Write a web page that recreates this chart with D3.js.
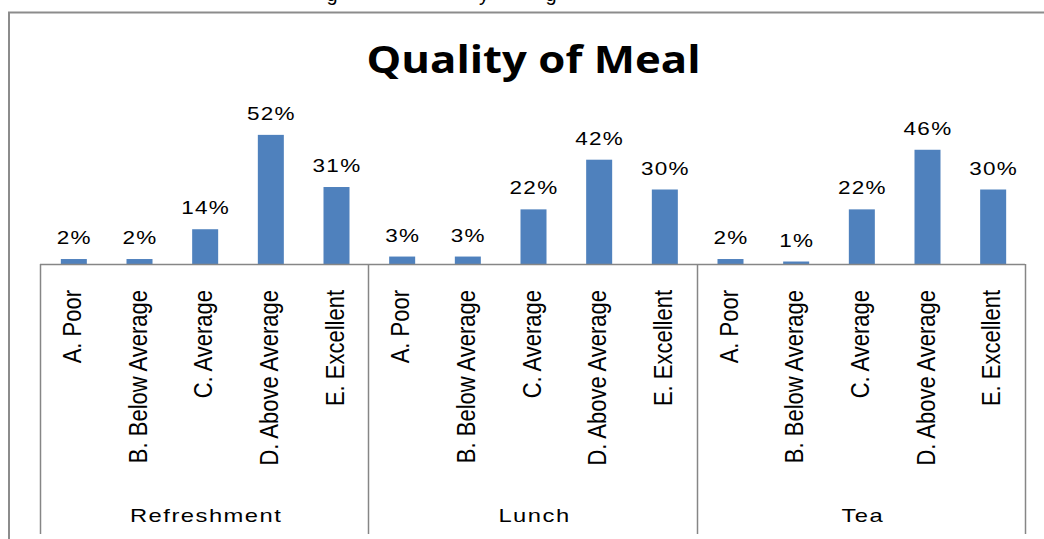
<!DOCTYPE html>
<html>
<head>
<meta charset="utf-8">
<script src="https://cdn.jsdelivr.net/npm/d3@7"></script>
<style>
  html, body { margin: 0; padding: 0; background: #fff; }
  svg { display: block; }
</style>
</head>
<body>
<svg id="chart" width="1044" height="539"></svg>
<script>
// ---- data ----
const groups = ["Refreshment", "Lunch", "Tea"];
const categories = ["A. Poor", "B. Below Average", "C. Average", "D. Above Average", "E. Excellent"];
const refreshment = [0.02, 0.02, 0.14, 0.52, 0.31];
const lunch = [0.03, 0.03, 0.22, 0.42, 0.30];
const tea = [0.02, 0.01, 0.22, 0.46, 0.30];
const seriesValues = [refreshment, lunch, tea];
const chartTitle = "Quality of Meal";
// fragments of caption text cut at the top edge (as in the reference)
const captionFragments = [{ t: "g", x: 332 }, { t: "y", x: 484 }, { t: "g", x: 551 }];

// ---- layout ----
const svg = d3.select("#chart");
const plotLeft = 40, plotRight = 1025, plotBase = 264, plotTop = 115;
const barColor = "#4F81BD";
const axisColor = "#868686";

const rows = [];
groups.forEach((g, gi) => categories.forEach((c, ci) => rows.push({ g, c, v: seriesValues[gi][ci], key: g + "|" + c })));

const xGroup = d3.scaleBand().domain(groups).range([plotLeft, plotRight]).padding(0);
const xCat = d3.scaleBand().domain(categories).range([0, xGroup.bandwidth()]).paddingInner(0.604).paddingOuter(0.302);
const y = d3.scaleLinear().domain([0, 0.6]).range([plotBase, plotTop]);
const fmt = d3.format(".0%");

// caption fragments
svg.selectAll("text.cap").data(captionFragments).join("text")
  .attr("class", "cap")
  .attr("x", d => d.x).attr("y", 1)
  .attr("text-anchor", "middle")
  .attr("font-family", "Liberation Sans, Arial, sans-serif")
  .attr("font-size", 20)
  .attr("fill", "#000")
  .text(d => d.t);

// outer frame (top + left)
svg.append("path")
  .attr("d", `M9,539 L9,12.5 L1044,12.5`)
  .attr("fill", "none")
  .attr("stroke", "#8c8c8c")
  .attr("stroke-width", 2);

// title
svg.append("text")
  .attr("x", (plotLeft + plotRight) / 2 + 1)
  .attr("y", 73)
  .attr("text-anchor", "middle")
  .attr("font-family", "Open Sans, Liberation Sans, Arial, sans-serif")
  .attr("font-weight", "bold")
  .attr("font-size", 38)
  .attr("textLength", 334)
  .attr("lengthAdjust", "spacingAndGlyphs")
  .attr("fill", "#000")
  .text(chartTitle);

// bars
svg.selectAll("rect.bar").data(rows).join("rect")
  .attr("class", "bar")
  .attr("x", d => xGroup(d.g) + xCat(d.c) + 1)
  .attr("width", xCat.bandwidth())
  .attr("y", d => y(d.v))
  .attr("height", d => plotBase - y(d.v))
  .attr("fill", barColor);

// value labels
svg.selectAll("g.vlab").data(rows).join("g")
  .attr("class", "vlab")
  .attr("transform", d => `translate(${xGroup(d.g) + xCat(d.c) + xCat.bandwidth() / 2 + 1.5},${y(d.v) - 15}) scale(1.25,1)`)
  .append("text")
  .attr("text-anchor", "middle")
  .attr("font-family", "Liberation Sans, Arial, sans-serif")
  .attr("font-size", 18)
  .attr("letter-spacing", 1)
  .attr("fill", "#000")
  .text(d => fmt(d.v));

// axis baseline
svg.append("line")
  .attr("x1", plotLeft).attr("x2", plotRight)
  .attr("y1", plotBase + 0.5).attr("y2", plotBase + 0.5)
  .attr("stroke", axisColor).attr("stroke-width", 1.5);

// group separators
const bounds = groups.map(g => xGroup(g)).concat([plotRight]);
svg.selectAll("line.sep").data(bounds).join("line")
  .attr("class", "sep")
  .attr("x1", d => Math.round(d) + 0.5).attr("x2", d => Math.round(d) + 0.5)
  .attr("y1", plotBase).attr("y2", 534)
  .attr("stroke", axisColor).attr("stroke-width", 1.5);

// category labels (rotated)
svg.selectAll("g.clab").data(rows).join("g")
  .attr("class", "clab")
  .attr("transform", d => `translate(${xGroup(d.g) + xCat(d.c) + xCat.bandwidth() / 2 + 8},290) scale(1.15,1) rotate(-90)`)
  .append("text")
  .attr("text-anchor", "end")
  .attr("font-family", "Liberation Sans, Arial, sans-serif")
  .attr("font-size", 22)
  .attr("fill", "#000")
  .text(d => d.c);

// group labels
svg.selectAll("g.glab").data(groups).join("g")
  .attr("class", "glab")
  .attr("transform", g => `translate(${xGroup(g) + xGroup.bandwidth() / 2 + 2},522) scale(1.25,1)`)
  .append("text")
  .attr("text-anchor", "middle")
  .attr("font-family", "Liberation Sans, Arial, sans-serif")
  .attr("font-size", 19)
  .attr("letter-spacing", 1.2)
  .attr("fill", "#000")
  .text(g => g);
</script>
</body>
</html>
